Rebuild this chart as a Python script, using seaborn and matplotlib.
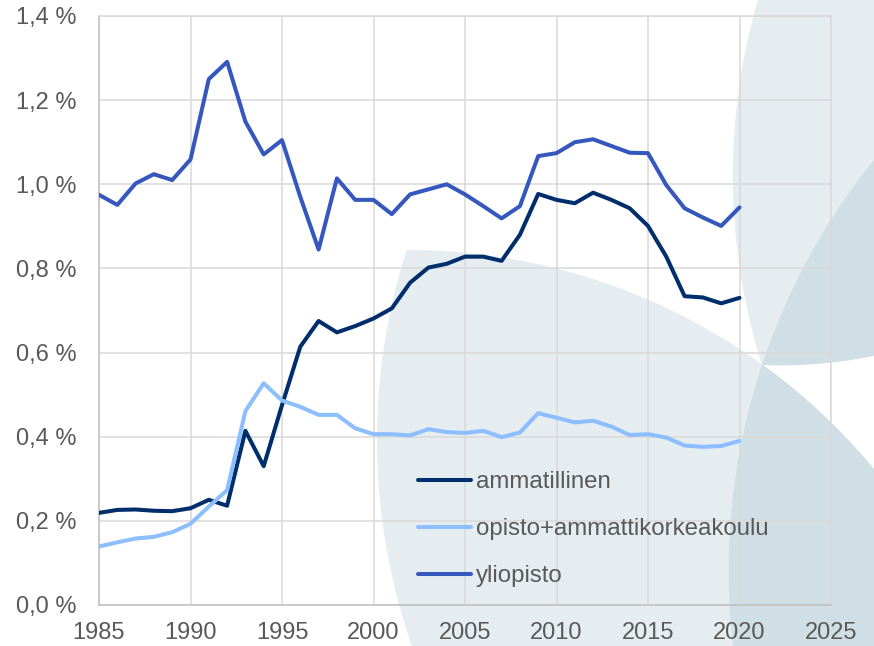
import numpy as np
import pandas as pd
import matplotlib.pyplot as plt
import seaborn as sns
from matplotlib.patches import Polygon
from matplotlib.transforms import Affine2D
from matplotlib.ticker import FuncFormatter, MultipleLocator

# --- data (% ) ---
years = list(range(1985, 2021))
ammatillinen = [0.219, 0.226, 0.227, 0.224, 0.223, 0.230, 0.250, 0.236, 0.414, 0.330,
                0.475, 0.614, 0.675, 0.648, 0.663, 0.681, 0.705, 0.766, 0.802, 0.811,
                0.828, 0.828, 0.818, 0.880, 0.977, 0.963, 0.955, 0.980, 0.963, 0.943,
                0.901, 0.828, 0.734, 0.731, 0.717, 0.730]
opisto_amk = [0.139, 0.149, 0.158, 0.162, 0.173, 0.193, 0.234, 0.273, 0.461, 0.527,
              0.486, 0.471, 0.452, 0.452, 0.420, 0.406, 0.406, 0.403, 0.418, 0.411,
              0.409, 0.414, 0.399, 0.410, 0.456, 0.445, 0.434, 0.438, 0.424, 0.404,
              0.406, 0.398, 0.379, 0.376, 0.378, 0.390]
yliopisto = [0.975, 0.951, 1.002, 1.024, 1.010, 1.059, 1.250, 1.291, 1.149, 1.071,
             1.105, 0.970, 0.845, 1.014, 0.963, 0.963, 0.929, 0.976, 0.988, 1.000,
             0.976, 0.948, 0.919, 0.948, 1.067, 1.074, 1.100, 1.107, 1.091, 1.075,
             1.074, 0.998, 0.943, 0.921, 0.901, 0.945]
series_names = ["ammatillinen", "opisto+ammattikorkeakoulu", "yliopisto"]
colors = ["#002E6C", "#8DBEFF", "#3557BE"]

df = pd.concat([
    pd.DataFrame({"vuosi": years, "osuus": vals, "sarja": name})
    for name, vals in zip(series_names, [ammatillinen, opisto_amk, yliopisto])
])

sns.set_style("white")
plt.rcParams["font.family"] = ["Liberation Sans", "DejaVu Sans"]
TXT = "#595959"

W, H = 874, 646
fig = plt.figure(figsize=(W / 100, H / 100), dpi=100, facecolor="white")
px = Affine2D().scale(1 / 100, -1 / 100).translate(0, H / 100) + fig.dpi_scale_trans


def leaf(circles, n=2000):
    # intersection of circles as a polygon (pixel coords, y down)
    pts = []
    for i, (cx, cy, r) in enumerate(circles):
        t = np.linspace(0, 2 * np.pi, n, endpoint=False)
        x = cx + r * np.cos(t)
        y = cy + r * np.sin(t)
        ok = np.ones(n, bool)
        for j, (ox, oy, orr) in enumerate(circles):
            if j != i:
                ok &= (x - ox) ** 2 + (y - oy) ** 2 <= orr ** 2
        pts.append(np.column_stack([x[ok], y[ok]]))
    pts = np.vstack(pts)
    c = pts.mean(axis=0)
    order = np.argsort(np.arctan2(pts[:, 1] - c[1], pts[:, 0] - c[0]))
    return pts[order]


# decorative background leaves
cA = [(408, 855, 605), (1002, 440, 625)]
cB = [(1362.6, 175.9, 629.7), (780, -100, 465.3)]
cD = (1383, 571, 654.3)
light, dark = "#E6EDF1", "#D0DEE5"
for circles, col in [(cA, light), (cB, light), (cA + [cD], dark), (cB + [cD], dark)]:
    fig.add_artist(Polygon(leaf(circles), closed=True, transform=px,
                           facecolor=col, edgecolor="none", zorder=-10))

ax = fig.add_axes([99 / W, 1 - 605 / H, (831 - 99) / W, (605 - 16) / H])
ax.set_facecolor("none")

sns.lineplot(data=df, x="vuosi", y="osuus", hue="sarja", palette=colors,
             linewidth=2.9, ax=ax, zorder=3)

ax.set_xlim(1985, 2025)
ax.set_ylim(0, 1.4)
ax.xaxis.set_major_locator(MultipleLocator(5))
ax.yaxis.set_major_locator(MultipleLocator(0.2))
ax.yaxis.set_major_formatter(FuncFormatter(lambda v, p: f"{v:.1f}".replace(".", ",") + " %"))
ax.set_xlabel("")
ax.set_ylabel("")
ax.grid(True, color="#D9D9D9", linewidth=1.1)
ax.set_axisbelow(True)
ax.tick_params(axis="both", length=0, labelsize=17, labelcolor=TXT)
ax.tick_params(axis="y", pad=16)
ax.tick_params(axis="x", pad=12)
for side in ["left", "bottom"]:
    ax.spines[side].set_color("#BFBFBF")
    ax.spines[side].set_linewidth(1.1)
for side in ["top", "right"]:
    ax.spines[side].set_color("#D9D9D9")
    ax.spines[side].set_linewidth(1.1)

handles, labels = ax.get_legend_handles_labels()
leg = ax.legend(handles, labels, loc="upper left", frameon=False,
                bbox_to_anchor=(418 / W, 1 - 471 / H), bbox_transform=fig.transFigure,
                fontsize=17.3, handlelength=2.2, handletextpad=0.22,
                labelspacing=1.04, borderpad=0, borderaxespad=0)
for t in leg.get_texts():
    t.set_color(TXT)
for h in leg.get_lines():
    h.set_linewidth(2.9)

fig.savefig("out.png", dpi=100)
